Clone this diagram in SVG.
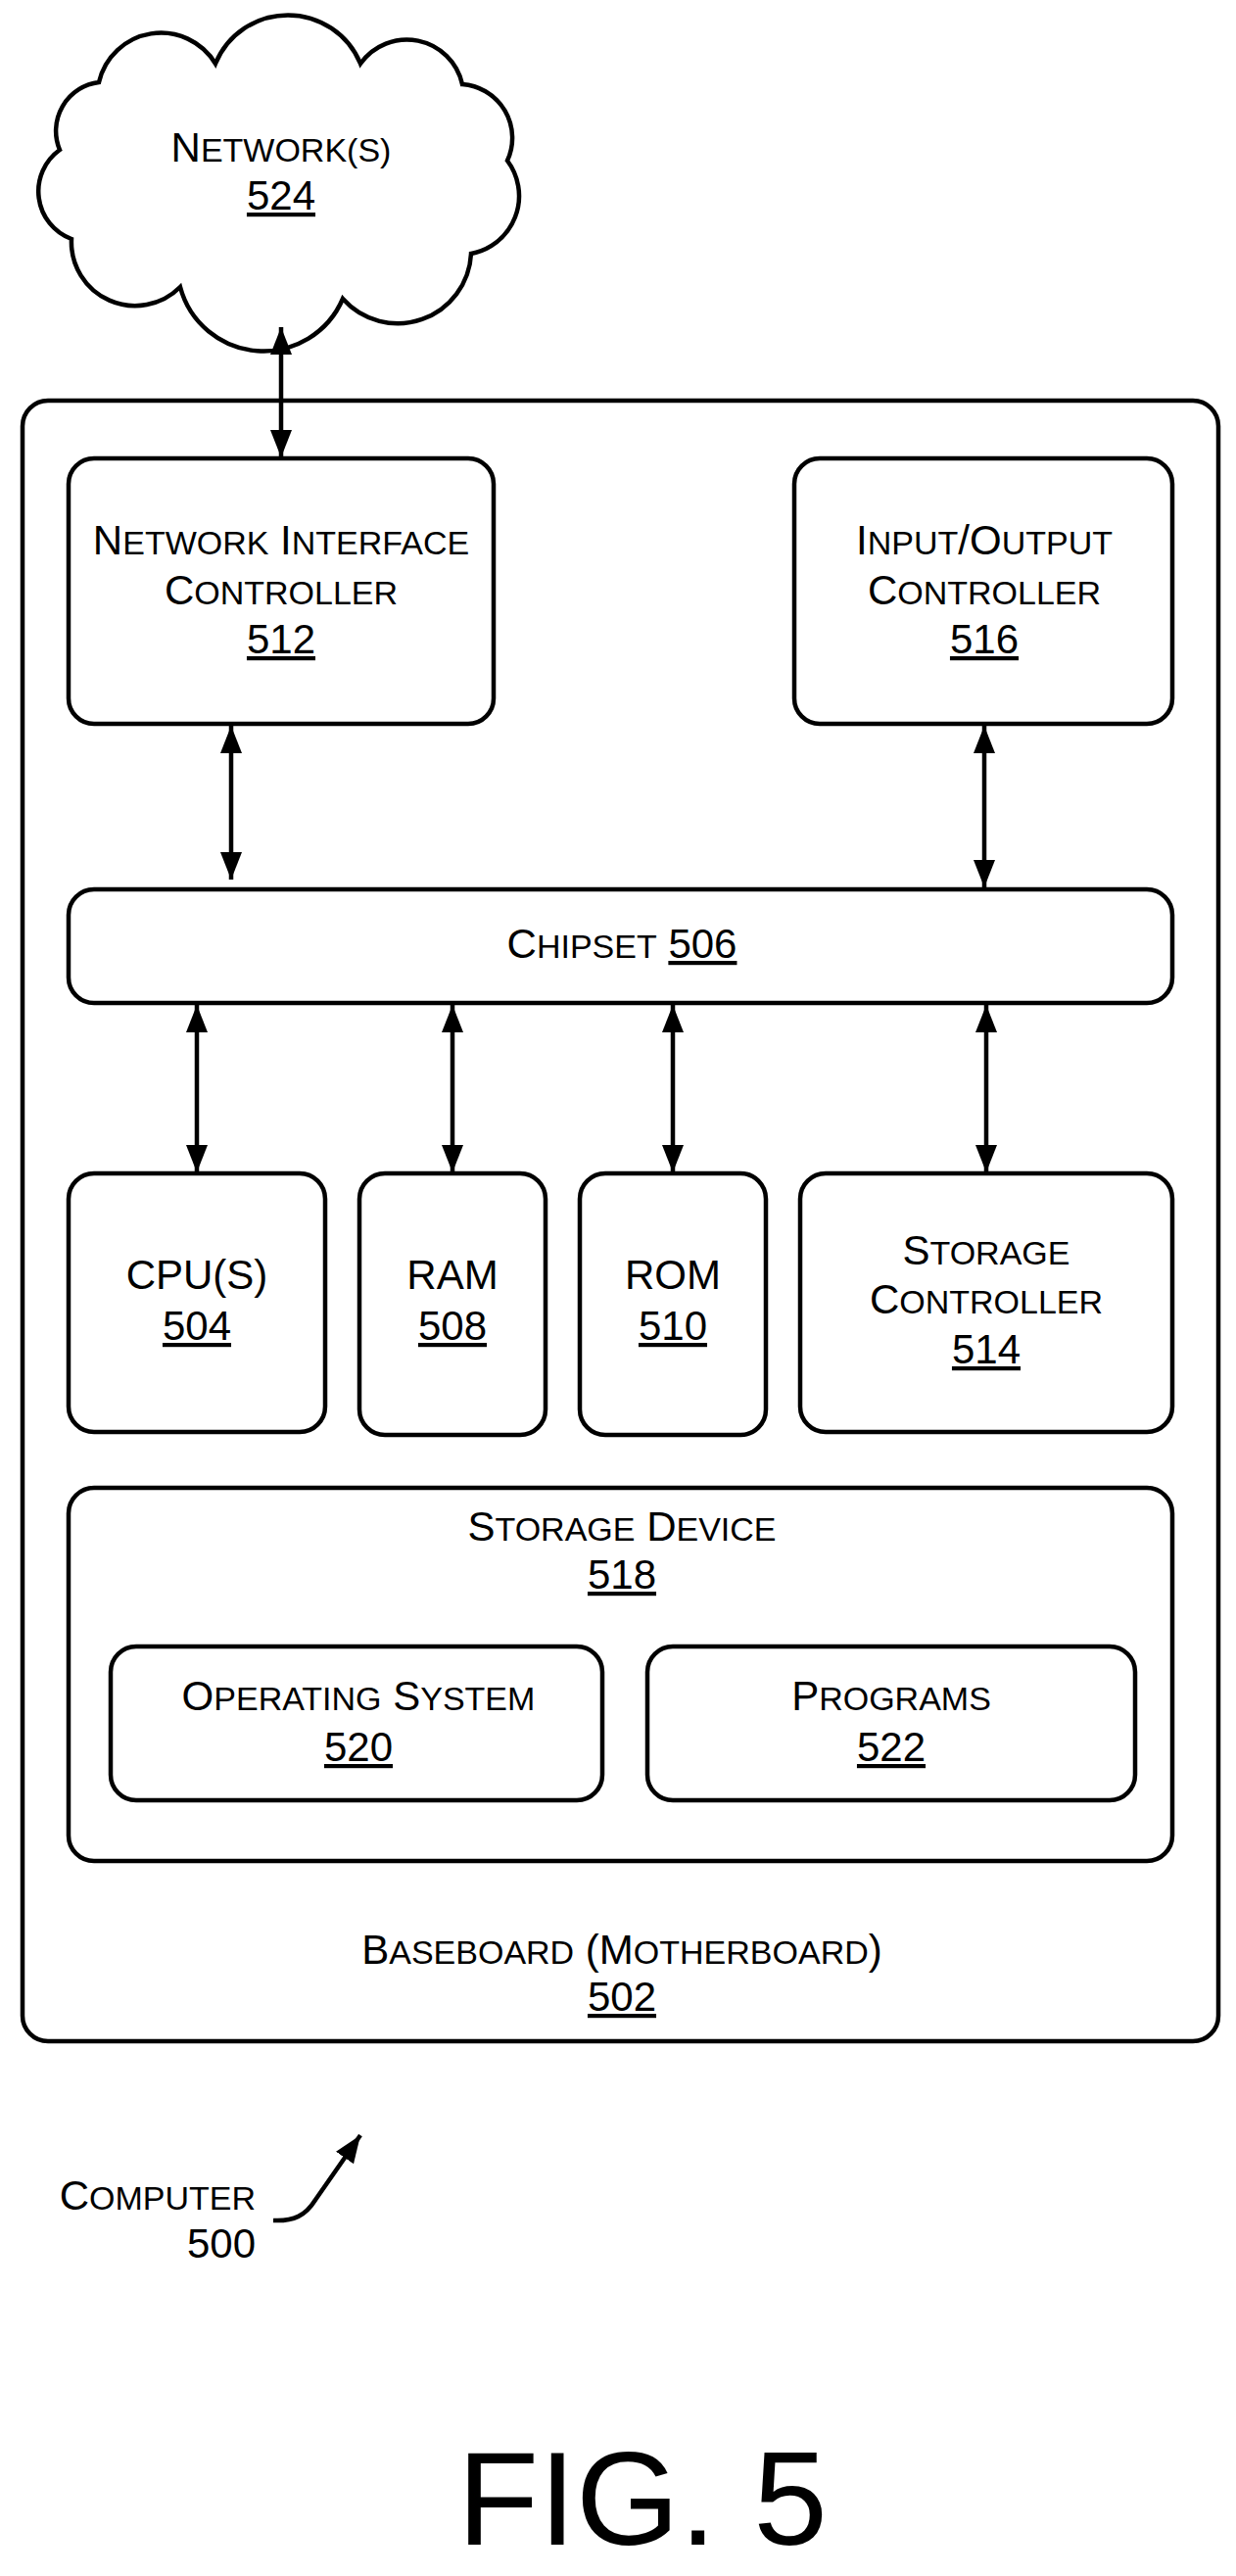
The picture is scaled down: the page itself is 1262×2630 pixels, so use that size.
<svg xmlns="http://www.w3.org/2000/svg" width="1262" height="2630" viewBox="0 0 1262 2630">
<style>
.b{fill:#fff;stroke:#000;stroke-width:4.5}
text{font-family:"Liberation Sans",Arial,sans-serif;font-size:42px;fill:#000;text-anchor:middle}
.s{font-size:34px}
.u{text-decoration:underline}
.c{stroke:#000;stroke-width:4.5;fill:none}
</style>
<defs>
<marker id="a" markerUnits="userSpaceOnUse" markerWidth="28" markerHeight="22" refX="28" refY="11" orient="auto-start-reverse"><path d="M0,0 L28,11 L0,22 Z" fill="#000"/></marker>
</defs>
<g id="baseboard"><rect class="b" x="23" y="409" width="1221" height="1675" rx="26"/>
<text x="635" y="2005">B<tspan class="s">ASEBOARD</tspan> (M<tspan class="s">OTHERBOARD</tspan>)</text>
<text x="635" y="2053" class="u">502</text></g>
<g id="network"><path class="b" d="M61,153 A50,50 0 0 1 101,84 A65,65 0 0 1 220,65 A80,80 0 0 1 368,65 A58,58 0 0 1 472,86 A55,55 0 0 1 518,164 A60,60 0 0 1 481,259 A75,75 0 0 1 350,305 A88,88 0 0 1 184,293 A65,65 0 0 1 73,244 A52,52 0 0 1 61,153 Z"/>
<text x="287" y="165">N<tspan class="s">ETWORK(S)</tspan></text>
<text x="287" y="214" class="u">524</text></g>
<g id="nic"><rect class="b" x="70" y="468" width="434" height="271" rx="26"/>
<text x="287" y="566">N<tspan class="s">ETWORK</tspan> I<tspan class="s">NTERFACE</tspan></text>
<text x="287" y="617">C<tspan class="s">ONTROLLER</tspan></text>
<text x="287" y="667" class="u">512</text></g>
<g id="io"><rect class="b" x="811" y="468" width="386" height="271" rx="26"/>
<text x="1005" y="566">I<tspan class="s">NPUT</tspan>/O<tspan class="s">UTPUT</tspan></text>
<text x="1005" y="617">C<tspan class="s">ONTROLLER</tspan></text>
<text x="1005" y="667" class="u">516</text></g>
<g id="chipset"><rect class="b" x="70" y="908" width="1127" height="116" rx="26"/>
<text x="635" y="978">C<tspan class="s">HIPSET</tspan> <tspan class="u">506</tspan></text></g>
<g id="cpu"><rect class="b" x="70" y="1198" width="262" height="264" rx="26"/>
<text x="201" y="1316">CPU(S)</text><text x="201" y="1368" class="u">504</text></g>
<g id="ram"><rect class="b" x="367" y="1198" width="190" height="267" rx="26"/>
<text x="462" y="1316">RAM</text><text x="462" y="1368" class="u">508</text></g>
<g id="rom"><rect class="b" x="592" y="1198" width="190" height="267" rx="26"/>
<text x="687" y="1316">ROM</text><text x="687" y="1368" class="u">510</text></g>
<g id="sc"><rect class="b" x="817" y="1198" width="380" height="264" rx="26"/>
<text x="1007" y="1291">S<tspan class="s">TORAGE</tspan></text>
<text x="1007" y="1341">C<tspan class="s">ONTROLLER</tspan></text>
<text x="1007" y="1392" class="u">514</text></g>
<g id="sd"><rect class="b" x="70" y="1519" width="1127" height="381" rx="26"/>
<text x="635" y="1573">S<tspan class="s">TORAGE</tspan> D<tspan class="s">EVICE</tspan></text>
<text x="635" y="1622" class="u">518</text></g>
<g id="os"><rect class="b" x="113" y="1681" width="502" height="157" rx="26"/>
<text x="366" y="1746">O<tspan class="s">PERATING</tspan> S<tspan class="s">YSTEM</tspan></text>
<text x="366" y="1798" class="u">520</text></g>
<g id="programs"><rect class="b" x="661" y="1681" width="498" height="157" rx="26"/>
<text x="910" y="1746">P<tspan class="s">ROGRAMS</tspan></text>
<text x="910" y="1798" class="u">522</text></g>
<g id="computer">
<text x="261" y="2256" style="text-anchor:end">C<tspan class="s">OMPUTER</tspan></text>
<text x="261" y="2305" style="text-anchor:end">500</text></g>
<g id="connectors">
<line class="c" x1="287" y1="334" x2="287" y2="467" marker-start="url(#a)" marker-end="url(#a)"/>
<line class="c" x1="236" y1="741" x2="236" y2="898" marker-start="url(#a)" marker-end="url(#a)"/>
<line class="c" x1="1005" y1="741" x2="1005" y2="906" marker-start="url(#a)" marker-end="url(#a)"/>
<line class="c" x1="201" y1="1026" x2="201" y2="1197" marker-start="url(#a)" marker-end="url(#a)"/>
<line class="c" x1="462" y1="1026" x2="462" y2="1197" marker-start="url(#a)" marker-end="url(#a)"/>
<line class="c" x1="687" y1="1026" x2="687" y2="1197" marker-start="url(#a)" marker-end="url(#a)"/>
<line class="c" x1="1007" y1="1026" x2="1007" y2="1197" marker-start="url(#a)" marker-end="url(#a)"/>
<path class="c" d="M279,2267 C300,2268 312,2262 322,2246 L368,2180" marker-end="url(#a)"/>
</g>
<text x="656" y="2598" style="font-size:136px">FIG. 5</text>
</svg>
